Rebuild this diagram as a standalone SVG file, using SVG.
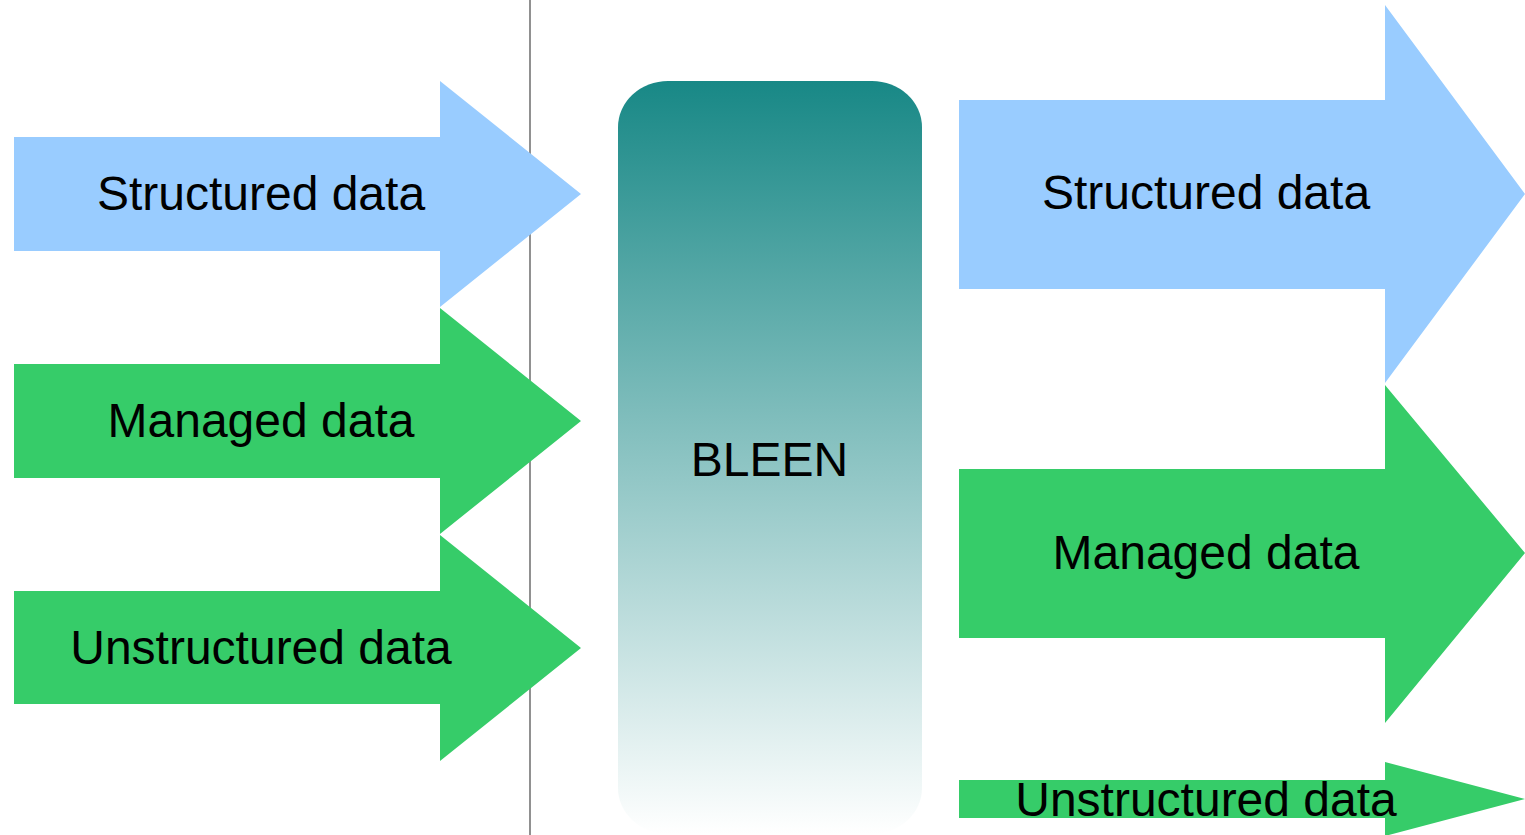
<svg xmlns="http://www.w3.org/2000/svg" width="1525" height="835" viewBox="0 0 1525 835">
  <style>
    .blue { fill: #99ccff; }
    .green { fill: #36cc69; }
    .lbl { font-family: "Liberation Sans", Arial, sans-serif; font-size: 48px; fill: #000; text-anchor: middle; }
  </style>
  <defs>
    <linearGradient id="bleenGrad" x1="0" y1="0" x2="0" y2="1">
      <stop offset="0" stop-color="#188886"/>
      <stop offset="1" stop-color="#ffffff"/>
    </linearGradient>
  </defs>
  <rect width="1525" height="835" fill="#ffffff"/>
  <g id="connectors">
    <line x1="530" y1="0" x2="530" y2="835" stroke="#555555" stroke-width="1.3"/>
  </g>
  <g id="in-structured">
    <polygon class="blue" points="14,137 440,137 440,81 581,194 440,307 440,251 14,251"/>
    <text class="lbl" x="261" y="210">Structured data</text>
  </g>
  <g id="in-managed">
    <polygon class="green" points="14,364 440,364 440,308 581,421 440,534 440,478 14,478"/>
    <text class="lbl" x="261" y="437">Managed data</text>
  </g>
  <g id="in-unstructured">
    <polygon class="green" points="14,591 440,591 440,535 581,648 440,761 440,704 14,704"/>
    <text class="lbl" x="261" y="664">Unstructured data</text>
  </g>
  <g id="bleen">
    <rect x="618" y="81" width="304" height="753" rx="50" ry="46" fill="url(#bleenGrad)"/>
    <text class="lbl" x="769.5" y="476">BLEEN</text>
  </g>
  <g id="out-structured">
    <polygon class="blue" points="959,100 1385,100 1385,5 1525,194 1385,383 1385,289 959,289"/>
    <text class="lbl" x="1206" y="209">Structured data</text>
  </g>
  <g id="out-managed">
    <polygon class="green" points="959,469 1385,469 1385,385 1525,553 1385,723 1385,638 959,638"/>
    <text class="lbl" x="1206" y="569">Managed data</text>
  </g>
  <g id="out-unstructured">
    <polygon class="green" points="959,780 1385,780 1385,762 1525,799 1385,836 1385,818 959,818"/>
    <text class="lbl" x="1206" y="816">Unstructured data</text>
  </g>
</svg>
